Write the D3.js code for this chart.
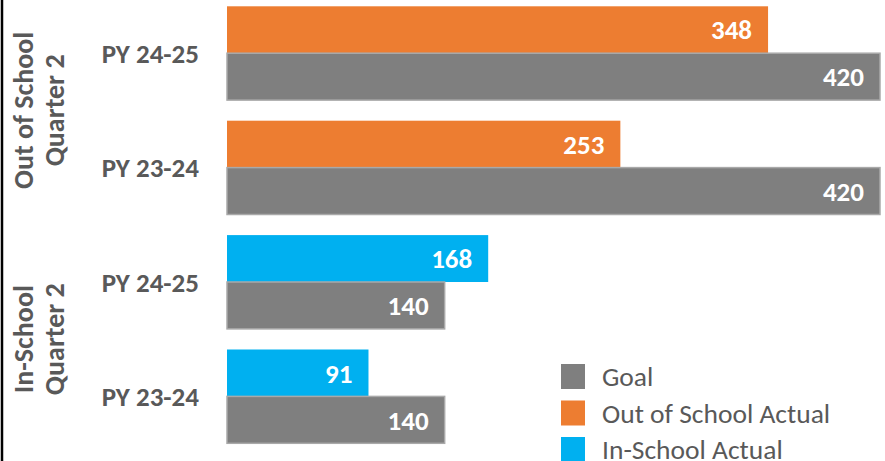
<!DOCTYPE html>
<html>
<head>
<meta charset="utf-8">
<script src="https://cdn.jsdelivr.net/npm/d3@7"></script>
<style>
  html, body { margin: 0; padding: 0; background: #fff; }
  svg { display: block; }
  text { font-family: Calibri, Carlito, Lato, sans-serif; }
</style>
</head>
<body>
<div id="chart"></div>
<script>
// ---- data ----
const groups = ["Out of School\nQuarter 2", "In-School\nQuarter 2"];
const categories = ["PY 24-25", "PY 23-24", "PY 24-25", "PY 23-24"];
const categoryGroup = [0, 0, 1, 1];
const actualValues = [348, 253, 168, 91];
const actualSeries = ["Out of School Actual", "Out of School Actual", "In-School Actual", "In-School Actual"];
const goalValues = [420, 420, 140, 140];
const legendItems = ["Goal", "Out of School Actual", "In-School Actual"];
const xDomain = [0, 420];

// ---- style ----
const W = 885, H = 461;
const colors = { "Goal": "#7f7f7f", "Out of School Actual": "#ed7d31", "In-School Actual": "#00b0f0" };
const textColor = "#595959";

const rows = categories.map((c, i) => ({
  key: i, label: c, group: categoryGroup[i],
  actual: actualValues[i], series: actualSeries[i], goal: goalValues[i]
}));

const svg = d3.select("#chart").append("svg").attr("width", W).attr("height", H);

const x = d3.scaleLinear().domain(xDomain).range([227, 880]);
const y = d3.scaleBand().domain(rows.map(r => r.key)).range([-4, 453.6])
  .paddingInner(0.18).paddingOuter(0.09);
const sub = d3.scaleBand().domain(["actual", "goal"]).range([0, y.bandwidth()]);

const g = svg.selectAll("g.row").data(rows).join("g").attr("class", "row")
  .attr("transform", d => `translate(0,${y(d.key)})`);

// actual bars
g.append("rect")
  .attr("x", x(0)).attr("y", sub("actual"))
  .attr("width", d => x(d.actual) - x(0)).attr("height", sub.bandwidth())
  .attr("fill", d => colors[d.series]);

// goal bars
g.append("rect")
  .attr("x", x(0)).attr("y", sub("goal"))
  .attr("width", d => x(d.goal) - x(0)).attr("height", sub.bandwidth())
  .attr("fill", colors["Goal"]).attr("stroke", "#a9a9a9").attr("stroke-width", 1.5);

// value labels
g.append("text")
  .attr("x", d => x(d.actual) - 16).attr("y", sub("actual") + sub.bandwidth() / 2)
  .attr("dy", "0.36em").attr("text-anchor", "end")
  .attr("fill", "#fff").attr("font-weight", "bold").attr("font-size", 27)
  .text(d => d.actual);
g.append("text")
  .attr("x", d => x(d.goal) - 16).attr("y", sub("goal") + sub.bandwidth() / 2)
  .attr("dy", "0.36em").attr("text-anchor", "end")
  .attr("fill", "#fff").attr("font-weight", "bold").attr("font-size", 27)
  .text(d => d.goal);

// category labels
g.append("text")
  .attr("x", 199).attr("y", y.bandwidth() / 2)
  .attr("dy", "0.36em").attr("text-anchor", "end")
  .attr("fill", textColor).attr("font-weight", "bold").attr("font-size", 27)
  .text(d => d.label);

// group labels
groups.forEach((gl, gi) => {
  const keys = rows.filter(r => r.group === gi).map(r => r.key);
  const top = y(keys[0]);
  const bottom = y(keys[keys.length - 1]) + y.bandwidth();
  const cy = (top + bottom) / 2;
  const lines = gl.split("\n");
  const t = svg.append("text")
    .attr("transform", `translate(0,${cy}) rotate(-90)`)
    .attr("text-anchor", "middle")
    .attr("fill", textColor).attr("font-weight", "bold").attr("font-size", 28);
  lines.forEach((ln, li) => {
    t.append("tspan").attr("x", 0).attr("y", 33 + li * 31).text(ln);
  });
});

// left axis line
svg.append("line").attr("x1", 2).attr("x2", 2).attr("y1", 0).attr("y2", H)
  .attr("stroke", "#000").attr("stroke-width", 2.5);

// legend
const leg = svg.selectAll("g.leg").data(legendItems).join("g").attr("class", "leg")
  .attr("transform", (d, i) => `translate(561,${364 + i * 36.5})`);
leg.append("rect").attr("width", 24).attr("height", 25).attr("fill", d => colors[d]);
leg.append("text").attr("x", 41).attr("y", 12.5).attr("dy", "0.36em")
  .attr("fill", textColor).attr("font-size", 27.5).text(d => d);
</script>
</body>
</html>
